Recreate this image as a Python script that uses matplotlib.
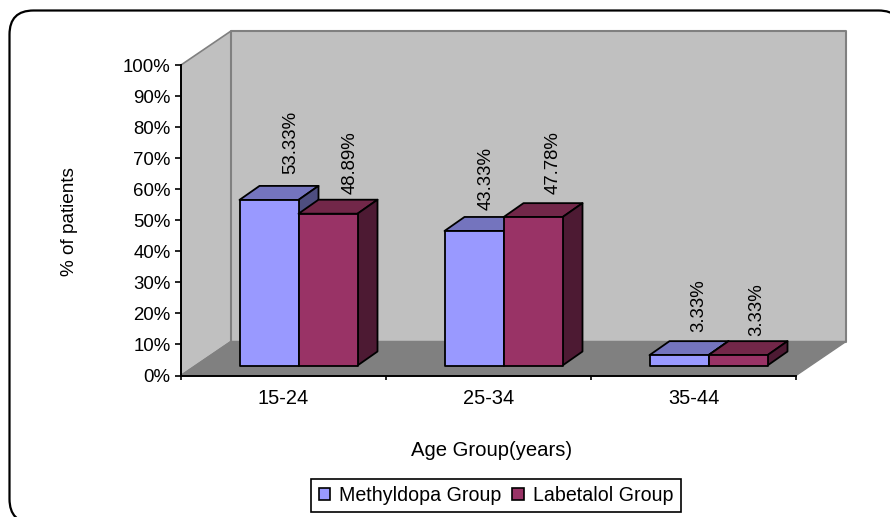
import matplotlib
matplotlib.use('Agg')
import matplotlib.pyplot as plt
from matplotlib.patches import FancyBboxPatch, Patch, Polygon

plt.rcParams['font.family'] = ['Liberation Sans', 'DejaVu Sans']

# data
age_groups = ['15-24', '25-34', '35-44']
methyldopa = [53.33, 43.33, 3.33]
labetalol = [48.89, 47.78, 3.33]
pct_ticks = list(range(0, 101, 10))

W, H = 890, 517
# fake 3d depth, in axis units
wall_dx, wall_dy = 50 / 205, 34 / 3.105
bar_dx, bar_dy = 20 / 205, 14 / 3.105
base_dx, base_dy = 15 / 205, 10 / 3.105
bar_w = 59 / 205
# pixel nudges for the value labels, same order as the bars
label_shift = [(2, 12), (2, 6), (-8, 7), (0, 9), (0, 9), (-1, 5)]

fig = plt.figure(figsize=(W / 100, H / 100), dpi=100)
fig.patch.set_facecolor('white')

frame = FancyBboxPatch((9.5, -6), 893, 512.5, boxstyle='round,pad=0,rounding_size=24',
                       transform=None, fc='white', ec='black', lw=1.6, zorder=-1)
fig.add_artist(frame)

ax = fig.add_axes([181 / W, 1 - 375.5 / H, 615 / W, 310.5 / H])
ax.patch.set_visible(False)
ax.set_xlim(0, 3)
ax.set_ylim(0, 100)


def poly(pts, fc, ec, lw=1.5, z=2):
    ax.add_patch(Polygon(pts, closed=True, fc=fc, ec=ec, lw=lw, zorder=z, clip_on=False,
                         joinstyle='round'))


# walls and floor
poly([(0, 0), (wall_dx, wall_dy), (wall_dx, 100 + wall_dy), (0, 100)], '#C0C0C0', '#808080', 1.2, 1)
poly([(wall_dx, wall_dy), (3 + wall_dx, wall_dy), (3 + wall_dx, 100 + wall_dy), (wall_dx, 100 + wall_dy)],
     '#C0C0C0', '#808080', 1.5, 1)
poly([(0, 0), (3, 0), (3 + wall_dx, wall_dy), (wall_dx, wall_dy)], '#808080', '#808080', 1, 1.5)


def bar3d(x, v, front, top, side, z):
    y0 = base_dy
    y1 = base_dy + v
    x0 = x + base_dx
    x1 = x0 + bar_w
    poly([(x0, y1), (x0 + bar_dx, y1 + bar_dy), (x1 + bar_dx, y1 + bar_dy), (x1, y1)], top, 'black', 1.3, z)
    poly([(x1, y0), (x1 + bar_dx, y0 + bar_dy), (x1 + bar_dx, y1 + bar_dy), (x1, y1)], side, 'black', 1.3, z)
    poly([(x0, y0), (x1, y0), (x1, y1), (x0, y1)], front, 'black', 1.3, z)


blue = ('#9999FF', '#7474BE', '#4E4E80')
maroon = ('#993366', '#722749', '#4D1A33')
k = 0
for i in range(len(age_groups)):
    for vals, cols, off in ((methyldopa, blue, -bar_w), (labetalol, maroon, 0)):
        x = i + 0.5 + off
        # labetalol sits in front of methyldopa's side face
        bar3d(x, vals[i], *cols, 2 + (off == 0))
        sx, sy = label_shift[k]
        ax.annotate('%.2f%%' % vals[i], (x + base_dx + bar_w / 2 + bar_dx, vals[i] + base_dy + bar_dy),
                    xytext=(sx, sy), textcoords='offset pixels', rotation=90, ha='center', va='bottom',
                    fontsize=13.4, color='black', annotation_clip=False, zorder=5)
        k += 1

# axes
for s in ('top', 'right'):
    ax.spines[s].set_visible(False)
for s in ('left', 'bottom'):
    ax.spines[s].set_linewidth(1.4)
    ax.spines[s].set_zorder(4)
ax.set_yticks(pct_ticks)
ax.set_yticklabels(['%d%%' % t for t in pct_ticks], fontsize=13.4)
ax.set_xticks(range(4))
ax.set_xticklabels([])
ax.set_xticks([i + 0.5 for i in range(3)], age_groups, minor=True, fontsize=14.4)
ax.tick_params(axis='x', which='major', length=3, width=1.2)
ax.tick_params(axis='x', which='minor', length=0, pad=10)
ax.tick_params(axis='y', length=4, width=1.2, pad=3.5)

fig.text(69 / W, 1 - 222 / H, '% of patients', rotation=90, ha='center', va='center', fontsize=13.7)
fig.text(492 / W, 1 - 450 / H, 'Age Group(years)', ha='center', va='center', fontsize=14.6)

handles = [Patch(fc=blue[0], ec='black', lw=1.2, label='Methyldopa Group'),
           Patch(fc=maroon[0], ec='black', lw=1.2, label='Labetalol Group')]
leg = fig.legend(handles=handles, loc='center', bbox_to_anchor=(496 / W, 1 - 495.5 / H), ncol=2,
                 prop={'size': 14.1}, frameon=True, fancybox=False, edgecolor='black', framealpha=1,
                 handlelength=0.6, handleheight=0.6, handletextpad=0.45, columnspacing=0.55,
                 borderpad=0.38, borderaxespad=0)
leg.get_frame().set_linewidth(1.2)

fig.savefig('out.png', dpi=100, facecolor='white')
